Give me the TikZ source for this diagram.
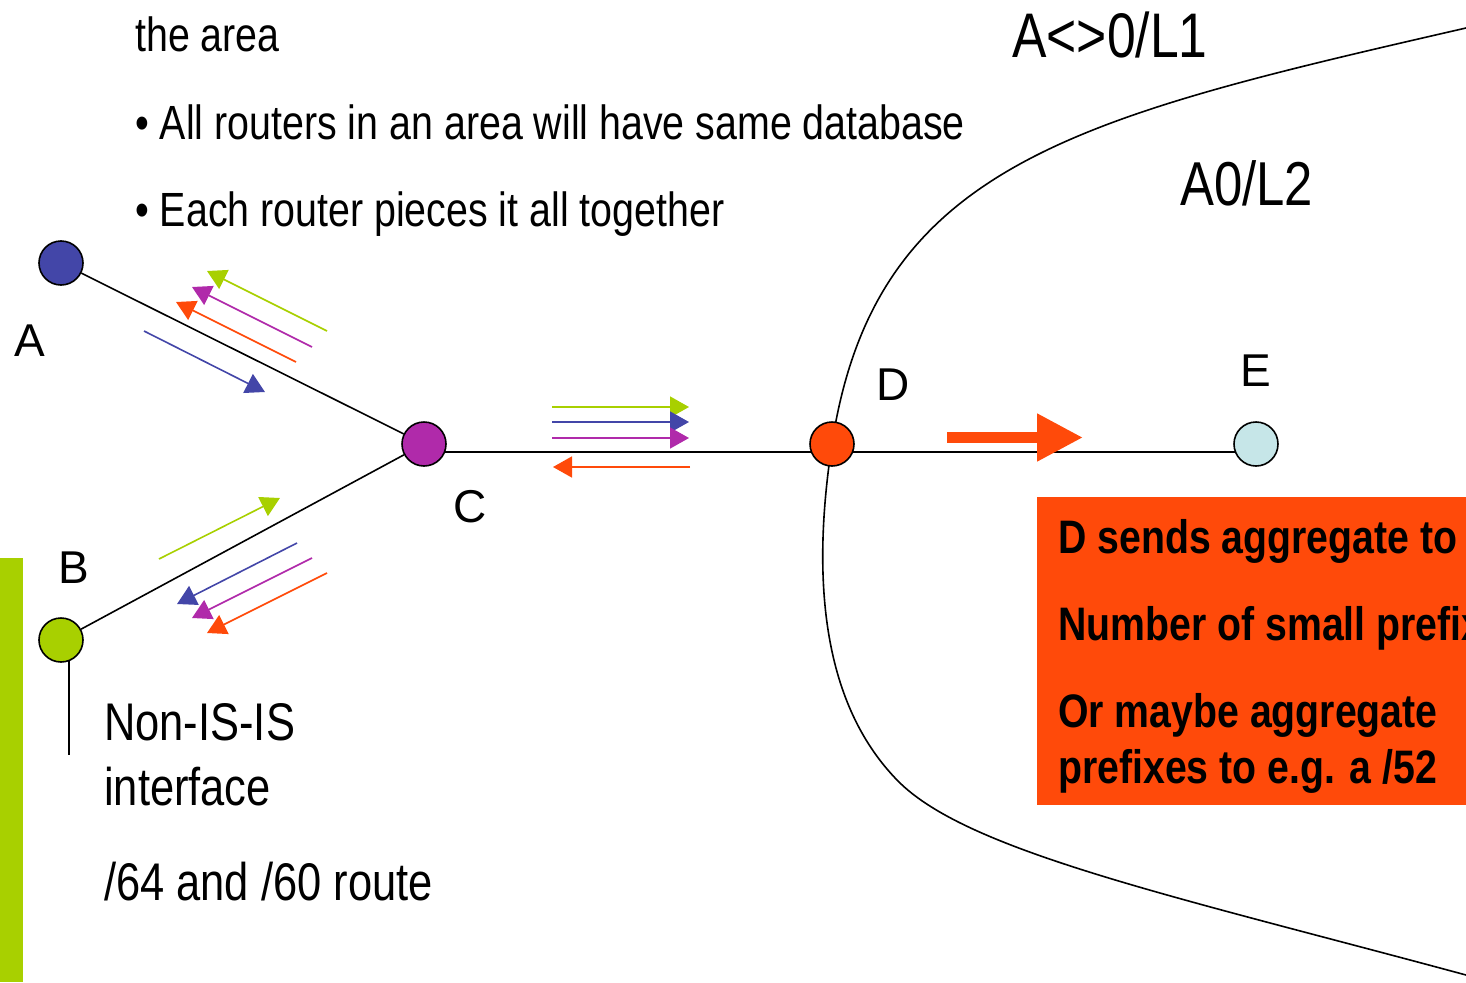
\documentclass[tikz,border=0pt]{standalone}
\usepackage{fontspec}
\setmainfont{Liberation Sans}
\newfontfamily\nar[FakeStretch=0.82]{Liberation Sans}
\newfontfamily\narb[FakeStretch=0.835]{Liberation Sans}
\usetikzlibrary{arrows.meta,backgrounds}
\definecolor{cblue}{RGB}{67,70,168}
\definecolor{clime}{RGB}{168,208,0}
\definecolor{cpurp}{RGB}{176,42,170}
\definecolor{corg}{RGB}{255,74,10}
\definecolor{clblue}{RGB}{198,230,232}
\begin{document}
\begin{tikzpicture}[x=1pt,y=-1pt,
  router/.style={circle,draw=black,line width=1.6pt,minimum size=44pt,inner sep=0pt},
  link/.style={line width=1.6pt,draw=black},
  sig/.style={line width=1.6pt,-{Triangle[length=19pt,width=21pt]}},
  lbl/.style={anchor=base west,inner sep=0pt,font=\fontsize{46}{50}\selectfont},
  slide/.style={anchor=base west,inner sep=0pt,font=\nar\fontsize{48}{56}\selectfont},
  area/.style={anchor=base west,inner sep=0pt,font=\nar\fontsize{63}{70}\selectfont},
  note/.style={anchor=base west,inner sep=0pt,font=\nar\fontsize{53}{60}\selectfont},
  boxtxt/.style={anchor=base west,inner sep=0pt,font=\narb\bfseries\fontsize{47}{55}\selectfont}]
\useasboundingbox (0,0) rectangle (1466,982);
\path[clip] (0,0) rectangle (1466,982);

% green side bar
\fill[clime] (0,558) rectangle (23,982);

% slide text
\node[slide] (t0) at (135,52) {the area};
\node[slide] (t1) at (135,139) {\textbullet\ All routers in an area will have same database};
\node[slide] (t2) at (135,226) {\textbullet\ Each router pieces it all together};
\node[area] (l1) at (1012,57) {A<>0/L1};
\node[area,font=\nar\fontsize{62}{70}\selectfont] (l2) at (1180,205) {A0/L2};

% routers
\node[router,fill=cblue]  (A) at (61,263) {};
\node[router,fill=clime]  (B) at (61,640) {};
\node[router,fill=cpurp]  (C) at (424,444) {};
\node[router,fill=corg]   (D) at (832,444) {};
\node[router,fill=clblue] (E) at (1256,444) {};
\coordinate (bEnd) at (69,755);
\coordinate (topEnd) at (1472,26.6);
\coordinate (botEnd) at (1472,976.6);

\begin{pgfonlayer}{background}
  \draw[link] (A) -- (C);
  \draw[link] (B) -- (C);
  \draw[link] ([yshift=-8pt]C.center) -- ([yshift=-8pt]D.center);
  \draw[link] ([yshift=-8pt]D.center) -- ([yshift=-8pt]E.center);
  \draw[link] (B.center -| bEnd) -- (bEnd);
  % area boundary
  \draw[link] (D.center) .. controls (874.8,164) and (1076,117.6) .. (1466,28) -- (topEnd);
  \draw[link] (D.center) .. controls (809,594) and (828,710) .. (898,781)
              .. controls (968,852) and (1176.5,896.7) .. (1466,975) -- (botEnd);
\end{pgfonlayer}

% router labels
\node[lbl] (la) at (14,356) {A};
\node[lbl] (lb) at (58,583) {B};
\node[lbl] (lc) at (453,522) {C};
\node[lbl] (ld) at (876,400) {D};
\node[lbl] (le) at (1240,386) {E};

% flooding arrows A--C
\draw[sig,clime] (327,331) -- (207,271);
\draw[sig,cpurp] (312,347) -- (192,287);
\draw[sig,corg]  (296,362) -- (176,302);
\draw[sig,cblue] (144,331) -- (265,392);

% flooding arrows B--C
\draw[sig,clime] (159,559) -- (280,498);
\draw[sig,cblue] (297,543) -- (177,604);
\draw[sig,cpurp] (312,558) -- (192,618);
\draw[sig,corg]  (327,573) -- (207,633);

% flooding arrows C--D
\draw[sig,clime] (552,407) -- (689,407);
\draw[sig,cblue] (552,422) -- (689,422);
\draw[sig,cpurp] (552,438) -- (689,438);
\draw[sig,corg]  (690,467) -- (553,467);

% big aggregate arrow
\draw[corg,line width=11pt,-{Triangle[length=46pt,width=45pt]}] (947,437.5) -- (1083,437.5);

% notes
\node[note] (n1) at (104,740) {Non-IS-IS};
\node[note] (n2) at (104,805) {interface};
\node[note] (n3) at (104,900) {/64 and /60 route};

% orange box
\node[fill=corg,anchor=north west,minimum width=440pt,minimum height=308pt,inner sep=0pt] (box) at (1037,497) {};
\node[boxtxt] (b1) at (1058,553) {D sends aggregate to};
\node[boxtxt] (b2) at (1058,640) {Number of small prefix};
\node[boxtxt] (b3) at (1058,727) {Or maybe aggregate};
\node[boxtxt] (b4) at (1058,783) {prefixes to e.g. a /52};
\end{tikzpicture}
\end{document}
